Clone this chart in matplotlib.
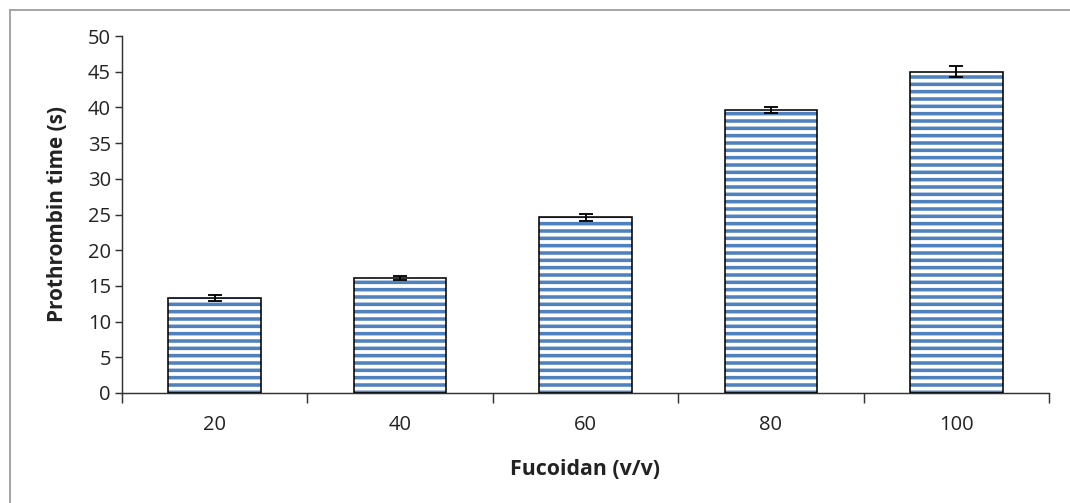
import matplotlib
matplotlib.use("Agg")
import matplotlib.pyplot as plt
from matplotlib.lines import Line2D
import numpy as np

categories = ["20", "40", "60", "80", "100"]
values = [13.3, 16.1, 24.6, 39.6, 45.0]
errors = [0.4, 0.3, 0.5, 0.4, 0.8]
yticks = [0, 5, 10, 15, 20, 25, 30, 35, 40, 45, 50]

DPI = 88
plt.rcParams['font.family'] = ['Open Sans', 'DejaVu Sans']
plt.rcParams['hatch.linewidth'] = 2.9

fig = plt.figure(figsize=(1070 / DPI, 503 / DPI), dpi=DPI)
ax = fig.add_axes([122 / 1070, 1 - 393 / 503, (1049 - 122) / 1070, (393 - 36) / 503])

x = np.arange(len(categories))
# hatched fill (blue stripes)
ax.bar(x, values, width=0.5, color='white', edgecolor='#4F81BD', hatch='--', linewidth=0, zorder=2)
# black outline
ax.bar(x, values, width=0.5, fill=False, edgecolor='black', linewidth=1.3, zorder=3)
ax.errorbar(x, values, yerr=errors, fmt='none', ecolor='black', elinewidth=1.5,
            capsize=5.5, capthick=1.5, zorder=4)

ax.set_xlim(-0.5, len(categories) - 0.5)
ax.set_ylim(0, 50)
ax.set_yticks(yticks)
ax.set_xticks(x)
ax.set_xticklabels(categories)
ax.set_xticks(np.arange(-0.5, len(categories), 1.0), minor=True)
ax.tick_params(axis='x', which='major', length=0, pad=18, labelsize=16.5, colors='#222222')
ax.tick_params(axis='x', which='minor', length=8, width=1.2, direction='out', color='#333333')
ax.tick_params(axis='y', length=6, width=1.2, direction='out', pad=3, labelsize=16.5,
               color='#333333', labelcolor='#222222')
for s in ['top', 'right']:
    ax.spines[s].set_visible(False)
for s in ['left', 'bottom']:
    ax.spines[s].set_linewidth(1.2)
    ax.spines[s].set_color('#333333')

ax.set_ylabel('Prothrombin time (s)', fontsize=17, fontweight='bold', labelpad=16, color='#222222')
ax.set_xlabel('Fucoidan (v/v)', fontsize=17.5, fontweight='bold', labelpad=20, color='#222222')

# outer frame (top and left edges, as in the cropped reference)
fig.add_artist(Line2D([10 / 1070, 1.0], [1 - 10 / 503, 1 - 10 / 503], color='#a0a0a0',
                      linewidth=1.5, transform=fig.transFigure))
fig.add_artist(Line2D([10 / 1070, 10 / 1070], [0, 1 - 10 / 503], color='#a0a0a0',
                      linewidth=1.5, transform=fig.transFigure))

fig.savefig('out.png', dpi=DPI)
